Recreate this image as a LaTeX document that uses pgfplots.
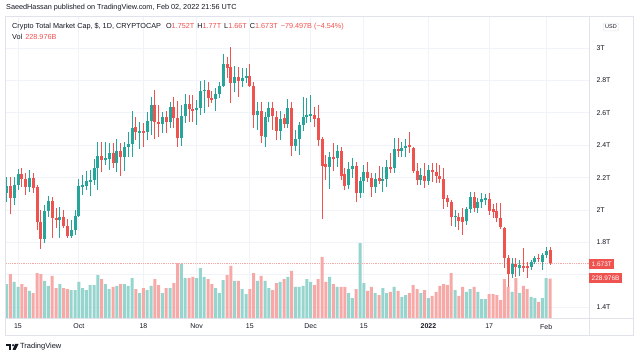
\documentclass[border=0pt]{standalone}
\usepackage{pgfplots}
\pgfplotsset{compat=1.18}
\usepackage{pgfplotstable}
\usepackage{fontspec}
\setmainfont{Liberation Sans}
\definecolor{upc}{RGB}{38,166,154}
\definecolor{downc}{RGB}{239,83,80}
\definecolor{volup}{RGB}{150,212,206}
\definecolor{voldown}{RGB}{247,169,167}
\definecolor{gridc}{RGB}{240,243,250}
\definecolor{framec}{RGB}{224,227,235}
\definecolor{txt}{RGB}{19,23,34}
\definecolor{dotc}{RGB}{246,170,168}

\pgfplotstableread{
d o h l c v
-3 2.105 2.204 2.049 2.148 197
-2 2.148 2.204 1.975 2.074 255
-1 2.074 2.204 2.031 2.154 209
0 2.154 2.253 2.123 2.222 180
1 2.222 2.259 2.142 2.191 197
2 2.191 2.228 2.093 2.142 180
3 2.142 2.247 2.111 2.198 157
4 2.198 2.228 2.105 2.136 145
5 2.142 2.154 1.877 1.926 261
6 1.926 2.000 1.759 1.821 255
7 1.821 2.031 1.796 1.994 215
8 1.994 2.086 1.957 2.056 186
9 2.056 2.080 1.827 1.951 244
10 1.951 2.012 1.889 1.938 174
11 1.938 2.019 1.827 1.957 197
12 1.957 2.000 1.889 1.901 174
13 1.901 1.944 1.827 1.840 168
14 1.840 1.938 1.827 1.877 162
15 1.877 2.000 1.846 1.963 162
16 1.963 2.191 1.957 2.148 209
17 2.148 2.216 2.093 2.154 174
18 2.148 2.241 2.123 2.179 162
19 2.179 2.247 2.086 2.185 191
20 2.185 2.315 2.154 2.259 191
21 2.259 2.420 2.123 2.333 249
22 2.333 2.420 2.235 2.309 226
23 2.309 2.420 2.278 2.321 197
24 2.315 2.414 2.247 2.352 168
25 2.352 2.414 2.259 2.290 180
26 2.290 2.438 2.235 2.364 186
27 2.364 2.414 2.210 2.327 197
28 2.327 2.420 2.241 2.389 197
29 2.389 2.481 2.327 2.407 186
30 2.407 2.611 2.327 2.506 232
31 2.512 2.574 2.432 2.481 168
32 2.481 2.543 2.377 2.488 145
33 2.488 2.537 2.389 2.481 174
34 2.481 2.605 2.432 2.549 162
35 2.549 2.698 2.463 2.648 186
36 2.648 2.741 2.438 2.543 226
37 2.543 2.648 2.451 2.531 191
38 2.531 2.605 2.475 2.574 145
39 2.574 2.611 2.475 2.543 174
40 2.543 2.667 2.506 2.636 174
41 2.636 2.698 2.506 2.568 203
42 2.568 2.673 2.389 2.444 319
43 2.444 2.648 2.395 2.580 313
44 2.580 2.716 2.537 2.654 232
45 2.654 2.710 2.543 2.623 232
46 2.623 2.710 2.543 2.617 238
47 2.617 2.679 2.525 2.630 232
48 2.630 2.796 2.586 2.735 290
49 2.735 2.802 2.599 2.741 238
50 2.741 2.790 2.636 2.691 226
51 2.691 2.735 2.660 2.685 197
52 2.685 2.753 2.611 2.716 174
53 2.716 2.790 2.691 2.765 145
54 2.765 2.963 2.759 2.901 220
55 2.901 2.944 2.815 2.877 249
56 2.883 3.006 2.660 2.784 302
57 2.784 2.889 2.728 2.821 215
58 2.821 2.883 2.698 2.796 215
59 2.796 2.877 2.759 2.815 168
60 2.815 2.877 2.784 2.827 139
61 2.827 2.901 2.759 2.765 168
62 2.765 2.790 2.506 2.586 261
63 2.586 2.667 2.494 2.611 215
64 2.611 2.667 2.414 2.457 244
65 2.451 2.605 2.389 2.574 215
66 2.574 2.667 2.543 2.630 174
67 2.630 2.667 2.494 2.580 162
68 2.574 2.611 2.432 2.488 203
69 2.488 2.611 2.432 2.562 209
70 2.568 2.593 2.506 2.531 226
71 2.531 2.685 2.506 2.630 238
72 2.630 2.667 2.333 2.395 273
73 2.395 2.494 2.364 2.438 180
74 2.438 2.543 2.340 2.525 180
75 2.525 2.698 2.488 2.574 186
76 2.574 2.691 2.537 2.586 226
77 2.580 2.710 2.543 2.593 209
78 2.586 2.636 2.512 2.562 191
79 2.568 2.648 2.395 2.432 226
80 2.438 2.451 1.944 2.272 354
81 2.284 2.340 2.185 2.265 209
82 2.265 2.358 2.130 2.327 238
83 2.327 2.414 2.241 2.321 197
84 2.321 2.401 2.265 2.364 180
85 2.364 2.389 2.185 2.210 180
86 2.222 2.259 2.123 2.148 180
87 2.154 2.296 2.130 2.253 145
88 2.253 2.321 2.198 2.272 116
89 2.272 2.296 2.049 2.105 168
90 2.105 2.204 2.074 2.179 435
91 2.179 2.278 2.105 2.235 203
92 2.235 2.296 2.173 2.198 157
93 2.198 2.228 2.080 2.142 180
94 2.142 2.228 2.105 2.191 145
95 2.198 2.272 2.160 2.179 133
96 2.179 2.265 2.111 2.191 174
97 2.191 2.309 2.142 2.265 145
98 2.265 2.352 2.228 2.259 151
99 2.259 2.444 2.228 2.377 180
100 2.377 2.444 2.327 2.364 157
101 2.364 2.420 2.327 2.383 122
102 2.383 2.438 2.327 2.395 133
103 2.401 2.481 2.352 2.389 145
104 2.383 2.389 2.228 2.241 191
105 2.241 2.290 2.154 2.185 168
106 2.185 2.259 2.154 2.216 145
107 2.210 2.290 2.136 2.179 162
108 2.179 2.278 2.154 2.247 116
109 2.247 2.290 2.173 2.235 128
110 2.235 2.290 2.167 2.210 151
111 2.210 2.278 2.167 2.191 186
112 2.191 2.259 2.006 2.068 197
113 2.074 2.093 2.019 2.049 191
114 2.049 2.062 1.901 1.957 261
115 1.957 2.000 1.895 1.963 162
116 1.957 1.981 1.877 1.932 128
117 1.957 2.012 1.846 1.926 180
118 1.932 2.019 1.907 2.006 151
119 2.006 2.111 1.981 2.080 168
120 2.080 2.111 1.988 2.012 180
121 2.012 2.074 1.981 2.049 151
122 2.049 2.105 2.012 2.068 110
123 2.062 2.099 2.031 2.074 110
124 2.068 2.105 1.969 1.994 139
125 2.006 2.037 1.951 1.988 139
126 1.994 2.043 1.926 1.951 133
127 1.951 2.043 1.883 1.895 104
128 1.889 1.895 1.642 1.704 226
129 1.704 1.722 1.525 1.605 180
130 1.605 1.704 1.580 1.667 151
131 1.667 1.704 1.586 1.648 232
132 1.642 1.691 1.593 1.660 145
133 1.654 1.765 1.617 1.648 186
134 1.654 1.679 1.580 1.642 168
135 1.648 1.691 1.630 1.679 122
136 1.679 1.716 1.667 1.704 116
137 1.704 1.728 1.679 1.698 93
138 1.679 1.735 1.630 1.722 116
139 1.722 1.772 1.704 1.747 232
140 1.752 1.770 1.660 1.673 229
}\candles

\pgfplotsset{
 base/.style={at={(6bp,40bp)}, anchor=south west, scale only axis,
   width=583bp, height=302bp, xmin=-3.158, xmax=150.26,
   axis line style={draw=none}, major tick length=0pt},
 pricey/.style={ymin=1.3333, ymax=3.1975,
   xtick={0,16,33,47,61,77,91,108,124,139},
   ytick={1.4,1.6,1.8,2.0,2.2,2.4,2.6,2.8,3.0}},
 wick/.style={draw=none, mark=none, forget plot,
   error bars/.cd, y dir=both, y explicit, error mark=none,
   error bar style={draw=#1, line width=0.9bp}},
 body/.style={draw=none, mark=none, forget plot,
   error bars/.cd, y dir=both, y explicit, error mark=none,
   error bar style={draw=#1, line width=3bp}},
}

\begin{document}
\begin{tikzpicture}
\path[use as bounding box] (0,0) rectangle (640bp,358bp);
\fill[white] (0,0) rectangle (640bp,358bp);

% grid
\begin{axis}[base, pricey, xticklabels={}, yticklabels={},
  grid=major, major grid style={draw=gridc, line width=0.9bp}]
\end{axis}

% volume
\begin{axis}[base, ymin=0, ymax=1752, hide axis, unbounded coords=discard]
\addplot[ybar, bar width=3bp, bar shift=0pt, fill=volup, draw=none]
  table[x=d, y expr={\thisrow{c}>=\thisrow{o} ? \thisrow{v} : nan}] {\candles};
\addplot[ybar, bar width=3bp, bar shift=0pt, fill=voldown, draw=none]
  table[x=d, y expr={\thisrow{c}<\thisrow{o} ? \thisrow{v} : nan}] {\candles};
\end{axis}

% price
\begin{axis}[base, pricey, unbounded coords=discard,
  xticklabels={15,Oct,18,Nov,15,Dec,15,\textbf{2022},17,Feb},
  yticklabels={1.4T,{},1.8T,2T,2.2T,2.4T,2.6T,2.8T,3T},
  yticklabel pos=right,
  ticklabel style={font=\fontsize{7}{8}\selectfont, text=txt},
  yticklabel style={anchor=west, xshift=4bp},
  xticklabel style={yshift=-2.5bp}]
\addplot[dotc, densely dotted, line width=0.8bp, forget plot]
  coordinates {(-4,1.673) (151,1.673)};
\addplot[wick=upc] table[x=d,
  y expr={\thisrow{c}>=\thisrow{o} ? (\thisrow{h}+\thisrow{l})/2 : nan},
  y error expr={(\thisrow{h}-\thisrow{l})/2}] {\candles};
\addplot[wick=downc] table[x=d,
  y expr={\thisrow{c}<\thisrow{o} ? (\thisrow{h}+\thisrow{l})/2 : nan},
  y error expr={(\thisrow{h}-\thisrow{l})/2}] {\candles};
\addplot[body=upc] table[x=d,
  y expr={\thisrow{c}>=\thisrow{o} ? (\thisrow{o}+\thisrow{c})/2 : nan},
  y error expr={max(abs(\thisrow{c}-\thisrow{o})/2,0.003)}] {\candles};
\addplot[body=downc] table[x=d,
  y expr={\thisrow{c}<\thisrow{o} ? (\thisrow{o}+\thisrow{c})/2 : nan},
  y error expr={max(abs(\thisrow{c}-\thisrow{o})/2,0.003)}] {\candles};
\end{axis}

% frame
\draw[framec, line width=0.8bp] (5.5bp,23bp) rectangle (633.5bp,342bp);
\draw[framec, line width=0.8bp] (589bp,23bp) -- (589bp,342bp);
\draw[framec, line width=0.8bp] (5.5bp,40bp) -- (633.5bp,40bp);

% price labels
\node[fill=downc, text=white, font=\fontsize{6.5}{7}\selectfont, anchor=west,
  minimum height=9.5bp, inner xsep=2.5bp, inner ysep=0pt] at (589bp,94bp) {1.673T};
\node[fill=downc, text=white, font=\fontsize{6.5}{7}\selectfont, anchor=west,
  minimum height=9.5bp, inner xsep=2.5bp, inner ysep=0pt] at (589bp,80bp) {228.976B};
\node[draw=framec, rounded corners=2bp, text=txt, font=\fontsize{5.5}{6}\selectfont,
  inner xsep=2bp, inner ysep=2bp] at (611bp,331bp) {USD};

% header texts
\node[anchor=west, text=txt, font=\fontsize{7.3}{8}\selectfont, inner sep=0pt]
  at (6bp,350bp) {SaeedHassan published on TradingView.com, Feb 02, 2022 21:56 UTC};
\node[anchor=west, text=txt, font=\fontsize{7.3}{8}\selectfont, inner sep=0pt]
  at (12bp,331bp) {Crypto Total Market Cap, \$, 1D, CRYPTOCAP\hspace{5bp}O\textcolor{downc}{1.752T}\hspace{3bp}H\textcolor{downc}{1.77T}\hspace{3bp}L\textcolor{downc}{1.66T}\hspace{3bp}C\textcolor{downc}{1.673T}\hspace{3bp}\textcolor{downc}{−79.497B (−4.54\%)}};
\node[anchor=west, text=txt, font=\fontsize{7.3}{8}\selectfont, inner sep=0pt]
  at (12bp,321bp) {Vol\hspace{3bp}\textcolor{downc}{228.976B}};

% footer logo
\fill[txt] (6bp,12bp) rectangle (11bp,14bp);
\fill[txt] (8.5bp,8bp) rectangle (10.5bp,14bp);
\fill[txt] (13bp,12.8bp) circle (1.2bp);
\fill[txt] (15bp,14bp) -- (18.5bp,14bp) -- (15.5bp,8bp) -- (12.5bp,8bp) -- cycle;
\node[anchor=west, text=txt, font=\fontsize{7.5}{8}\selectfont, inner sep=0pt]
  at (20bp,11bp) {TradingView};
\end{tikzpicture}
\end{document}
